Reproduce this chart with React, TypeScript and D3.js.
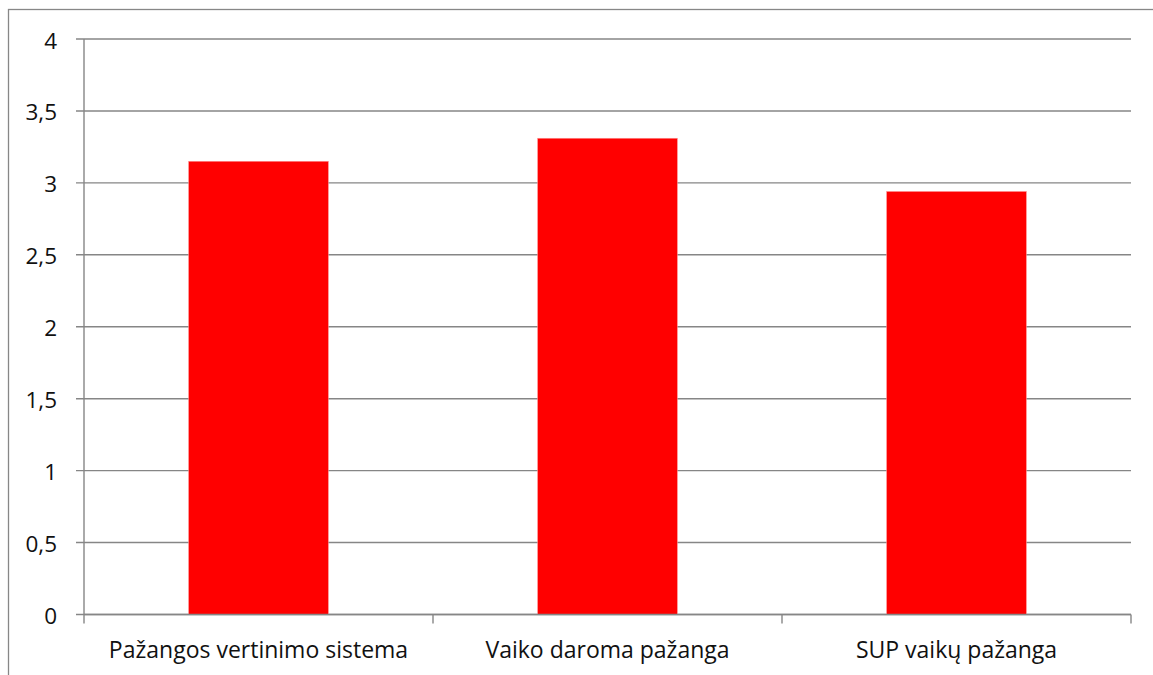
import React from "react";
import * as d3 from "d3";

const categories = ["Pažangos vertinimo sistema", "Vaiko daroma pažanga", "SUP vaikų pažanga"];
const values = [3.15, 3.31, 2.94];
const yTicks = [0, 0.5, 1, 1.5, 2, 2.5, 3, 3.5, 4];
const yTickLabels = ["0", "0,5", "1", "1,5", "2", "2,5", "3", "3,5", "4"];

const W = 1153;
const H = 675;
const FONT = "'Open Sans', 'Noto Sans', sans-serif";

export default function App() {
  const left = 84;
  const right = 1131;
  const top = 39;
  const bottom = 614.5;
  const x = d3
    .scaleBand<string>()
    .domain(categories)
    .range([left, right])
    .paddingInner(0.6)
    .paddingOuter(0.3);
  const y = d3.scaleLinear().domain([0, 4]).range([bottom, top]);
  const step = (right - left) / categories.length;
  const boundaries = d3.range(categories.length + 1).map((i) => left + i * step);
  const grid = "#868686";

  return (
    <svg
      width={W}
      height={H}
      style={{ position: "absolute", left: 0, top: 0, background: "#fff" }}
    >
      <rect x={8.5} y={9.5} width={1300} height={800} fill="#fff" stroke="#878787" strokeWidth={1.3} />
      {yTicks.map((t, i) => (
        <g key={t}>
          <line x1={76} x2={right} y1={y(t)} y2={y(t)} stroke={grid} strokeWidth={1.4} />
          <text
            x={57}
            y={y(t) + 1}
            textAnchor="end"
            dominantBaseline="central"
            fontFamily={FONT}
            fontSize={22.5}
            fill="#111"
          >
            {yTickLabels[i]}
          </text>
        </g>
      ))}
      {categories.map((c, i) => (
        <rect
          key={c}
          x={x(c)}
          y={y(values[i])}
          width={x.bandwidth()}
          height={bottom - y(values[i])}
          fill="#ff0000"
          stroke="#ff8c8c"
          strokeWidth={0.6}
        />
      ))}
      <line x1={left} x2={left} y1={top} y2={bottom} stroke={grid} strokeWidth={1.4} />
      <line x1={left} x2={right} y1={bottom} y2={bottom} stroke={grid} strokeWidth={1.4} />
      {boundaries.map((b, i) => (
        <line key={i} x1={b} x2={b} y1={bottom} y2={bottom + 9} stroke={grid} strokeWidth={1.4} />
      ))}
      {categories.map((c) => (
        <text
          key={c}
          x={(x(c) as number) + x.bandwidth() / 2}
          y={658}
          textAnchor="middle"
          fontFamily={FONT}
          fontSize={23}
          fill="#111"
        >
          {c}
        </text>
      ))}
    </svg>
  );
}
